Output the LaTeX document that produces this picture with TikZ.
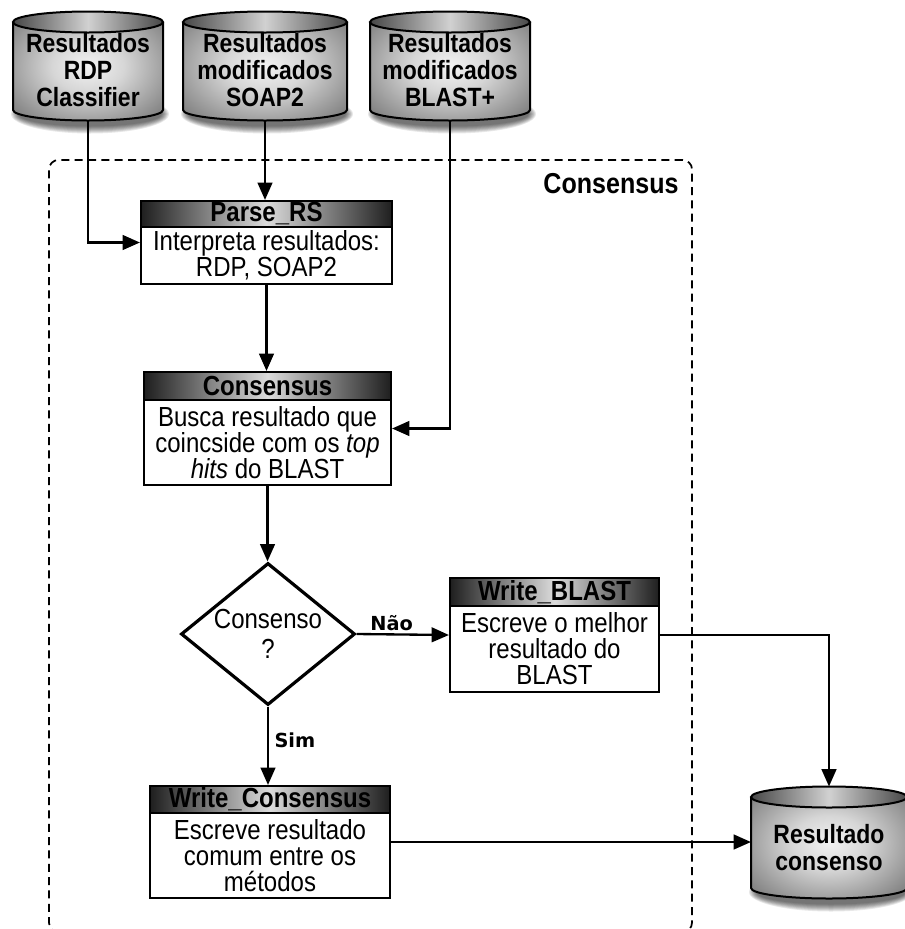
\documentclass[tikz,border=0pt]{standalone}
\usepackage{fontspec}
\setmainfont{Liberation Sans}[FakeStretch=0.87]
\newfontfamily\labelfont{DejaVu Sans}
\usetikzlibrary{arrows.meta,shapes.geometric,calc}

% one drawing unit = 0.75pt
\def\pxu{0.75pt}

\pgfdeclareradialshading{cylbody}{\pgfpoint{0bp}{0bp}}{%
  color(0bp)=(white!95!black); color(12bp)=(white!84!black);
  color(40bp)=(black!62); color(50bp)=(black!75); color(75bp)=(black!78)}

\tikzset{
  wire/.style={line width=1.75pt},
  conn/.style={wire, -{Triangle[length=13pt,width=11pt]}},
  boxframe/.style={draw, line width=1.6pt, rectangle, inner sep=0pt, fill=white},
  boxhead/.style={draw, line width=1.6pt, rectangle, inner sep=0pt,
    left color=black!88, right color=black!88, middle color=white!86!black,
    font=\fontsize{20.7}{20}\selectfont\bfseries},
  boxtext/.style={align=center, inner sep=0pt, font=\fontsize{20.7}{19.5}\selectfont},
  cyltext/.style={align=center, inner sep=0pt, font=\fontsize{19.8}{20.25}\selectfont\bfseries},
  decision/.style={diamond, draw, line width=2.4pt, inner sep=0pt, aspect=1.22,
    minimum width=174*\pxu, minimum height=142*\pxu, align=center,
    font=\fontsize{20.7}{22}\selectfont},
  group/.style={draw, dashed, dash pattern=on 6pt off 4pt, line width=1.3pt,
    rounded corners=7pt, rectangle, inner sep=0pt},
  grouptitle/.style={inner sep=0pt, font=\fontsize{21.6}{20}\selectfont\bfseries},
  branch/.style={inner sep=2pt, font=\fontsize{14.5}{16}\labelfont\bfseries},
}

% process box: name, x1, y1, x2, y of title bottom, y2, title, text
\newcommand\procbox[8]{%
  \node[boxframe, minimum width=(#4-#2)*\pxu, minimum height=(#6-#3)*\pxu]
    (#1) at ({(#2+#4)/2},{(#3+#6)/2}) {};
  \node[boxhead, minimum width=(#4-#2)*\pxu, minimum height=(#5-#3)*\pxu,
    anchor=north] (#1-h) at (#1.north) {#7};
  \node[boxtext] (#1-t) at ({(#2+#4)/2},{(#5+#6)/2}) {#8};
}

% database cylinder: name, cx, y of top ellipse, y of bottom ellipse, rx, text y, text
\newcommand\dbcyl[7]{%
  \foreach \k in {0,...,7}
    \fill[black, opacity=0.09] (#2+2,#4+4) ellipse [x radius={(#5+4-\k)*\pxu}, y radius={(10.5+9-\k)*\pxu}];
  \shade[shading=cylbody]
    (#2-#5,#3) -- (#2-#5,#4)
    arc[start angle=180, end angle=360, x radius=#5*\pxu, y radius=10.5*\pxu]
    -- (#2+#5,#3)
    arc[start angle=0, end angle=180, x radius=#5*\pxu, y radius=10.5*\pxu] -- cycle;
  \draw[line width=1.5pt]
    (#2-#5,#3) -- (#2-#5,#4)
    arc[start angle=180, end angle=360, x radius=#5*\pxu, y radius=10.5*\pxu]
    -- (#2+#5,#3);
  \draw[line width=1.5pt, left color=black!72, right color=black!72, middle color=white!82!black]
    (#2,#3) ellipse [x radius=#5*\pxu, y radius=10.5*\pxu];
  \node[cyltext] (#1) at (#2,#6) {#7};
  \coordinate (#1-top) at (#2,#3-10.5);
  \coordinate (#1-bot) at (#2,#4+10.5);
  \coordinate (#1-w) at (#2-#5,{(#3+#4)/2});
}

\begin{document}
\begin{tikzpicture}[x=0.75pt, y=-0.75pt]
\useasboundingbox (0,0) rectangle (904,929);
\fill[white] (0,0) rectangle (904,929);

% grouping frame of the consensus stage
\node[group, minimum width=643*\pxu, minimum height=772*\pxu] (grp) at (370.5,546) {};
\node[grouptitle] (grp-title) at (611,184) {Consensus};

% input and output data
\dbcyl{c1}{88}{22}{110}{75}{70}{Resultados\\RDP\\Classifier}
\dbcyl{c2}{265}{22}{110}{82}{70}{Resultados\\modificados\\SOAP2}
\dbcyl{c3}{450}{22}{110}{80}{70}{Resultados\\modificados\\BLAST+}
\dbcyl{res}{829}{797}{888}{78}{848}{Resultado\\consenso}

% processing steps
\procbox{parse}{141}{201}{392}{227}{284}{Parse\_RS}{Interpreta resultados:\\RDP, SOAP2}
\procbox{cons}{144}{372}{391}{400}{485}{Consensus}{Busca resultado que\\coincside com os \textit{top}\\\textit{hits} do BLAST}
\procbox{wb}{450}{578}{659}{606}{692}{Write\_BLAST}{Escreve o melhor\\resultado do\\BLAST}
\procbox{wc}{150}{786}{390}{813}{898}{Write\_Consensus}{Escreve resultado\\comum entre os\\métodos}

\node[decision] (dec) at (268,634) {Consenso\\?};

% flow
\draw[conn] (c1-bot) |- (parse.west);
\draw[conn] (c2-bot) -- (c2-bot |- parse.north);
\draw[conn] (parse.south) -- (parse.south |- cons.north);
\draw[conn] (c3-bot) |- (cons.east);
\draw[conn] (cons.south) -- (cons.south |- dec.north);
\draw[conn] (dec.east) -- (wb.west) node[branch, pos=0.38, above] {Não};
\draw[conn] (wb.east) -| (res-top);
\draw[conn] (dec.south) -- (dec.south |- wc.north) node[branch, pos=0.43, right, xshift=2pt] {Sim};
\draw[conn] (wc.east) -- (wc.east -| res-w);
\end{tikzpicture}
\end{document}
